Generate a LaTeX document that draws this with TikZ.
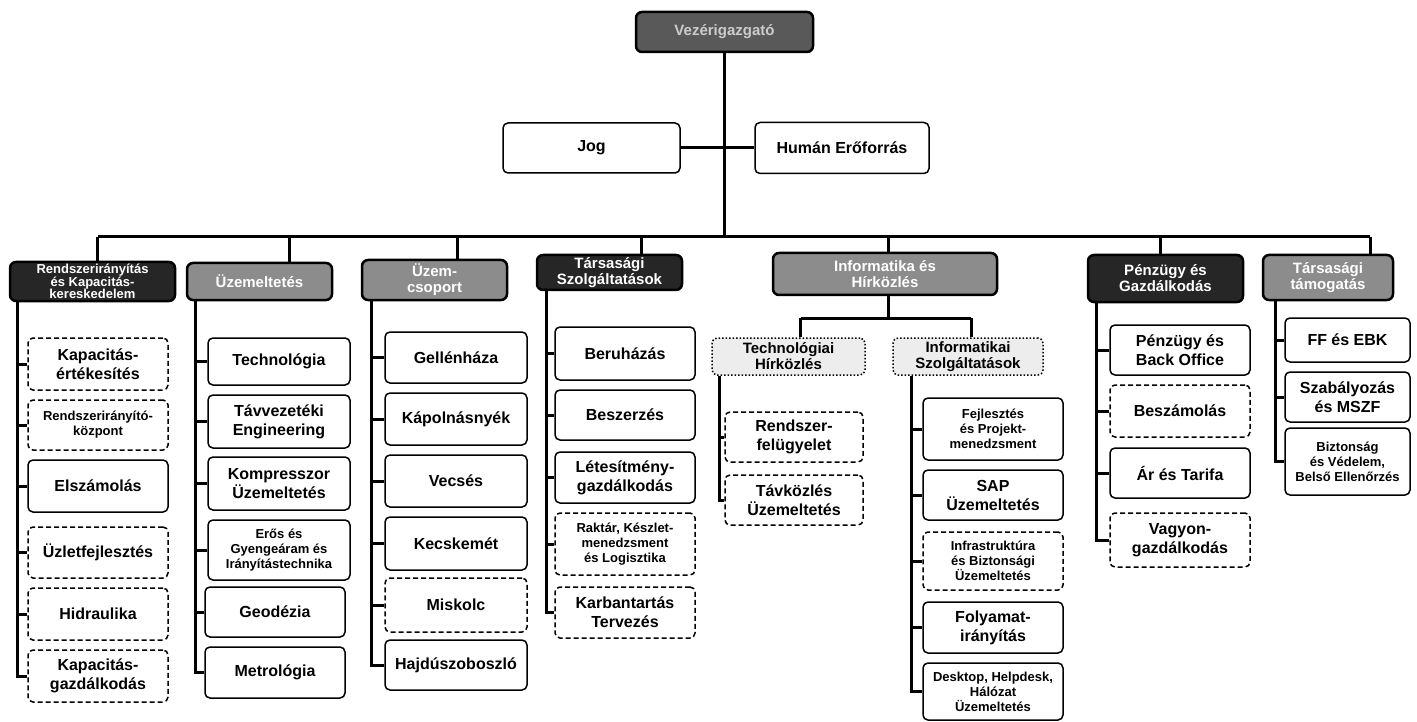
\documentclass[tikz,border=0pt]{standalone}
\usepackage{fontspec}
\setmainfont{Liberation Sans}
\begin{document}
\begin{tikzpicture}[x=1pt,y=-1pt,
  conn/.style={line width=3pt},
  box/.style={draw=black, line width=1.5pt, rounded corners=5pt, fill=white, align=center, inner sep=0pt, font=\bfseries\fontsize{16}{19}\selectfont},
  dbox/.style={box, dash pattern=on 5pt off 3pt},
  smalltxt/.style={font=\bfseries\fontsize{13}{15}\selectfont},
  hdr/.style={draw=black, line width=2.5pt, rounded corners=6pt, align=center, inner sep=0pt, font=\bfseries\fontsize{15}{16}\selectfont, text=white},
  hdark/.style={hdr, fill=black!85},
  hgray/.style={hdr, fill=black!45},
  subhdr/.style={draw=black, line width=1.5pt, dotted, rounded corners=5pt, fill=black!7, align=center, inner sep=0pt, font=\bfseries\fontsize{15}{16}\selectfont}
]
\useasboundingbox (0,0) rectangle (1417,722);
\fill[white] (0,0) rectangle (1417,722);

% top level
\node[hdr, fill=black!65, text=black!20, minimum width=177, minimum height=40] (top) at (724.5,32) {Vezérigazgató};
\node[box, minimum width=177, minimum height=50] (jog) at (591.5,148) {Jog};
\node[box, minimum width=174, minimum height=51] (hum) at (842,148) {Humán Erőforrás};

% division headers
\node[hdark, font=\bfseries\fontsize{13}{12.5}\selectfont, minimum width=165, minimum height=39] (h1) at (92.5,281.5) {Rendszerirányítás\\és Kapacitás-\\kereskedelem};
\node[hgray, minimum width=145, minimum height=37] (h2) at (259.5,281.5) {Üzemeltetés};
\node[hgray, minimum width=145, minimum height=40] (h3) at (434.5,280) {Üzem-\\csoport};
\node[hdark, minimum width=145, minimum height=35] (h4) at (609.5,272.5) {Társasági\\Szolgáltatások};
\node[hgray, minimum width=224, minimum height=42] (h5) at (885,274) {Informatika és\\Hírközlés};
\node[hdark, minimum width=155, minimum height=47] (h6) at (1165.5,278.5) {Pénzügy és\\Gazdálkodás};
\node[hgray, minimum width=130, minimum height=45] (h7) at (1328,277.5) {Társasági\\támogatás};

% sub headers of Informatika
\node[subhdr, minimum width=153, minimum height=37] (s1) at (788.5,356.5) {Technológiai\\Hírközlés};
\node[subhdr, minimum width=150, minimum height=37] (s2) at (968,356.5) {Informatikai\\Szolgáltatások};

% column 1
\node[dbox, minimum width=140, minimum height=52] (c1a) at (98,364) {Kapacitás-\\értékesítés};
\node[dbox, smalltxt, minimum width=140, minimum height=50] (c1b) at (98,425) {Rendszerirányító-\\központ};
\node[box, minimum width=140, minimum height=52] (c1c) at (98,486) {Elszámolás};
\node[dbox, minimum width=140, minimum height=51] (c1d) at (98,552.5) {Üzletfejlesztés};
\node[dbox, minimum width=140, minimum height=52] (c1e) at (98,614) {Hidraulika};
\node[dbox, minimum width=140, minimum height=52] (c1f) at (98,676) {Kapacitás-\\gazdálkodás};

% column 2
\node[box, minimum width=142, minimum height=47] (c2a) at (279,361.5) {Technológia};
\node[box, minimum width=142, minimum height=53] (c2b) at (279,421.5) {Távvezetéki\\Engineering};
\node[box, minimum width=142, minimum height=53] (c2c) at (279,483.5) {Kompresszor\\Üzemeltetés};
\node[box, smalltxt, minimum width=142, minimum height=60] (c2d) at (279,550) {Erős és\\Gyengeáram és\\Irányítástechnika};
\node[box, minimum width=140, minimum height=50] (c2e) at (275,612) {Geodézia};
\node[box, minimum width=140, minimum height=51] (c2f) at (275,672.5) {Metrológia};

% column 3
\node[box, minimum width=142, minimum height=51] (c3a) at (456,357.5) {Gellénháza};
\node[box, minimum width=142, minimum height=52] (c3b) at (456,419) {Kápolnásnyék};
\node[box, minimum width=142, minimum height=52] (c3c) at (456,481) {Vecsés};
\node[box, minimum width=142, minimum height=53] (c3d) at (456,543.5) {Kecskemét};
\node[dbox, minimum width=142, minimum height=54] (c3e) at (456,605) {Miskolc};
\node[box, minimum width=142, minimum height=50] (c3f) at (456,665) {Hajdúszoboszló};

% column 4
\node[box, minimum width=140, minimum height=53] (c4a) at (625,353.5) {Beruházás};
\node[box, minimum width=140, minimum height=50] (c4b) at (625,415) {Beszerzés};
\node[box, minimum width=140, minimum height=51] (c4c) at (625,477.5) {Létesítmény-\\gazdálkodás};
\node[dbox, smalltxt, minimum width=140, minimum height=62] (c4d) at (625,544) {Raktár, Készlet-\\menedzsment\\és Logisztika};
\node[dbox, minimum width=140, minimum height=51] (c4e) at (625,612.5) {Karbantartás\\Tervezés};

% column 5
\node[dbox, minimum width=138, minimum height=50] (c5a) at (794,437) {Rendszer-\\felügyelet};
\node[dbox, minimum width=138, minimum height=50] (c5b) at (794,500) {Távközlés\\Üzemeltetés};
\node[box, smalltxt, minimum width=140, minimum height=62] (c5c) at (993,429) {Fejlesztés\\és Projekt-\\menedzsment};
\node[box, minimum width=140, minimum height=50] (c5d) at (993,495) {SAP\\Üzemeltetés};
\node[dbox, smalltxt, minimum width=140, minimum height=58] (c5e) at (993,561) {Infrastruktúra\\és Biztonsági\\Üzemeltetés};
\node[box, minimum width=140, minimum height=51] (c5f) at (993,627.5) {Folyamat-\\irányítás};
\node[box, smalltxt, minimum width=140, minimum height=57] (c5g) at (993,691.5) {Desktop, Helpdesk,\\Hálózat\\Üzemeltetés};

% column 6
\node[box, minimum width=140, minimum height=50] (c6a) at (1180,350) {Pénzügy és\\Back Office};
\node[dbox, minimum width=140, minimum height=52] (c6b) at (1180,411) {Beszámolás};
\node[box, minimum width=140, minimum height=50] (c6c) at (1180,473) {Ár és Tarifa};
\node[dbox, minimum width=140, minimum height=54] (c6d) at (1180,540) {Vagyon-\\gazdálkodás};

% column 7
\node[box, minimum width=125, minimum height=44] (c7a) at (1347.5,340) {FF és EBK};
\node[box, minimum width=125, minimum height=50] (c7b) at (1347.5,397) {Szabályozás\\és MSZF};
\node[box, smalltxt, minimum width=125, minimum height=67] (c7c) at (1347.5,461.5) {Biztonság\\és Védelem,\\Belső Ellenőrzés};

% connectors: top part
\coordinate (bus) at (0,237);
\coordinate (sbus) at (0,318);
\draw[conn] (top.south) -- (top.south |- bus);
\draw[conn] (jog.east) -- (hum.west);
\draw[conn] ([xshift=5pt]h1.north |- bus) -- ([xshift=42pt]h7.north |- bus);
\draw[conn] ([xshift=5pt]h1.north) -- ([xshift=5pt]h1.north |- bus);
\draw[conn] ([xshift=30pt]h2.north) -- ([xshift=30pt]h2.north |- bus);
\draw[conn] ([xshift=23pt]h3.north) -- ([xshift=23pt]h3.north |- bus);
\draw[conn] ([xshift=32pt]h4.north) -- ([xshift=32pt]h4.north |- bus);
\draw[conn] ([xshift=3pt]h5.north) -- ([xshift=3pt]h5.north |- bus);
\draw[conn] ([xshift=-5pt]h6.north) -- ([xshift=-5pt]h6.north |- bus);
\draw[conn] ([xshift=42pt]h7.north) -- ([xshift=42pt]h7.north |- bus);

% Informatika sub bus
\draw[conn] ([xshift=3pt]h5.south) -- ([xshift=3pt]h5.south |- sbus);
\draw[conn] ([xshift=12pt]s1.north |- sbus) -- ([xshift=3pt]s2.north |- sbus);
\draw[conn] ([xshift=12pt]s1.north) -- ([xshift=12pt]s1.north |- sbus);
\draw[conn] ([xshift=3pt]s2.north) -- ([xshift=3pt]s2.north |- sbus);

% spines
\foreach \c in {c1a,c1b,c1c,c1d,c1e,c1f} \draw[conn] ([xshift=9pt]h1.south west) |- (\c.west);
\foreach \c in {c2a,c2b,c2c,c2d,c2e,c2f} \draw[conn] ([xshift=10pt]h2.south west) |- (\c.west);
\foreach \c in {c3a,c3b,c3c,c3d,c3e,c3f} \draw[conn] ([xshift=11pt]h3.south west) |- (\c.west);
\foreach \c in {c4a,c4b,c4c,c4d,c4e} \draw[conn] ([xshift=11pt]h4.south west) |- (\c.west);
\foreach \c in {c5a,c5b} \draw[conn] ([xshift=8pt]s1.south west) |- (\c.west);
\foreach \c in {c5c,c5d,c5e,c5f,c5g} \draw[conn] ([xshift=19pt]s2.south west) |- (\c.west);
\foreach \c in {c6a,c6b,c6c,c6d} \draw[conn] ([xshift=10pt]h6.south west) |- (\c.west);
\foreach \c in {c7a,c7b,c7c} \draw[conn] ([xshift=14pt]h7.south west) |- (\c.west);
\end{tikzpicture}
\end{document}
